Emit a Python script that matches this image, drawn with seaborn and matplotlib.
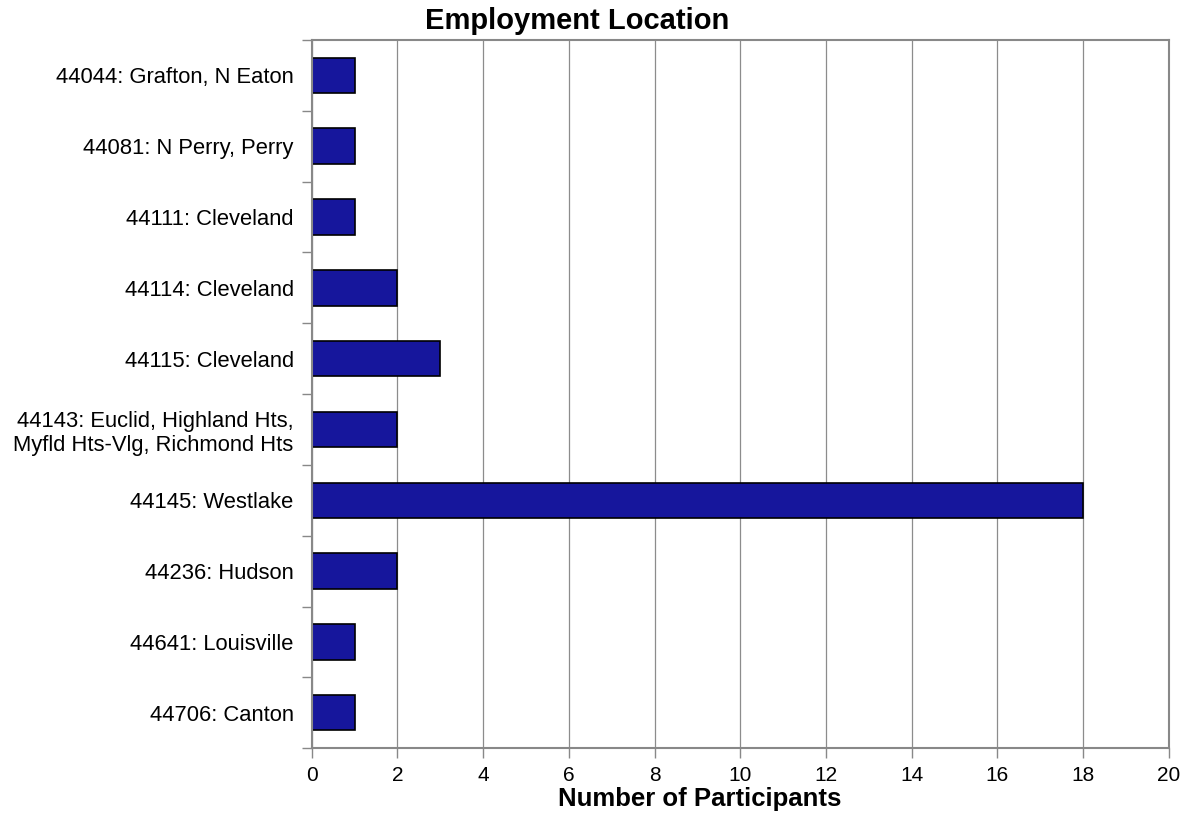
import numpy as np
import pandas as pd
import matplotlib
matplotlib.use("Agg")
import matplotlib.pyplot as plt
import seaborn as sns

locations = ["44044: Grafton, N Eaton", "44081: N Perry, Perry", "44111: Cleveland",
             "44114: Cleveland", "44115: Cleveland",
             "44143: Euclid, Highland Hts,\nMyfld Hts-Vlg, Richmond Hts",
             "44145: Westlake", "44236: Hudson", "44641: Louisville", "44706: Canton"]
participants = [1, 1, 1, 2, 3, 2, 18, 2, 1, 1]

df = pd.DataFrame({"location": locations, "participants": participants})

sns.set_style("white")
plt.rcParams['font.family'] = ['Liberation Sans', 'DejaVu Sans']
plt.rcParams['text.color'] = 'black'
plt.rcParams['xtick.color'] = 'black'
plt.rcParams['ytick.color'] = 'black'
plt.rcParams['axes.labelcolor'] = 'black'

fig = plt.figure(figsize=(11.9, 8.15), dpi=100)
ax = fig.add_axes([0.262, 0.082, 0.72, 0.869])

sns.barplot(data=df, x="participants", y="location", orient="h",
            color="#16169c", saturation=1, width=0.5,
            edgecolor="black", linewidth=1.2, ax=ax)

ax.set_xlim(0, 20)
ax.set_ylim(len(locations) - 0.5, -0.5)
ax.set_xticks(np.arange(0, 21, 2))
ax.xaxis.grid(True, color="#8c8c8c", linewidth=0.9)
ax.set_axisbelow(True)

# y ticks sit between categories
ax.set_yticks(np.arange(len(locations)))
ax.set_yticklabels(locations, fontsize=15.8, ha="right", multialignment="right")
ax.set_yticks(np.arange(-0.5, len(locations)), minor=True)
ax.tick_params(axis="y", which="major", length=0, pad=13, labelcolor="black")
ax.tick_params(axis="y", which="minor", length=7, color="#888888", width=1, direction="out", left=True)
ax.tick_params(axis="x", length=7, color="#888888", width=1, direction="out", labelsize=15,
               bottom=True, labelcolor="black", pad=6)

for s in ax.spines.values():
    s.set_color("#888888")
    s.set_linewidth(1.5)

ax.set_ylabel("")
ax.set_xlabel("Number of Participants", fontsize=18.5, fontweight="bold", color="black")
ax.xaxis.set_label_coords(0.453, -0.055)
fig.text(0.485, 0.974, "Employment Location", fontsize=21, fontweight="bold",
         ha="center", va="center", color="black")

fig.savefig("out.png", dpi=100)
